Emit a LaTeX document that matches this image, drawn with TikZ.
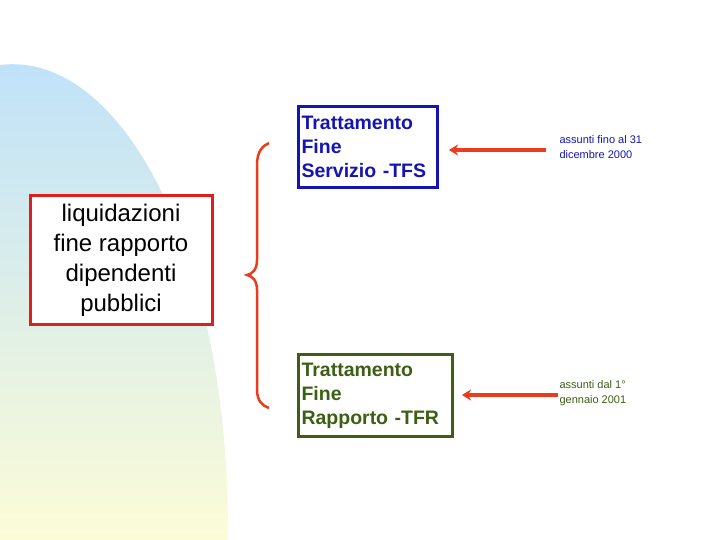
\documentclass[tikz,border=0pt]{standalone}
\usepackage{fontspec}
\setmainfont{Liberation Sans}
\usetikzlibrary{arrows.meta}
\definecolor{navy}{RGB}{20,20,180}
\definecolor{dgreen}{RGB}{60,95,20}
\definecolor{redb}{RGB}{225,30,30}
\definecolor{arr}{RGB}{235,60,30}
\definecolor{skyb}{RGB}{190,225,250}
\definecolor{paley}{RGB}{252,252,215}
\tikzset{box/.style={draw,line width=3pt,anchor=north west,align=left,inner xsep=3pt,inner ysep=1pt,font=\bfseries\fontsize{19.5}{24}\selectfont},
lbl/.style={anchor=west,align=left,font=\fontsize{11}{14.5}\selectfont},
arrw/.style={draw=arr,line width=3.5pt,-{Stealth[length=9pt,width=11pt]}}}
\begin{document}
\begin{tikzpicture}[x=1pt,y=-1pt]
\useasboundingbox (0,0) rectangle (720,540);
\shade[top color=skyb,bottom color=paley] (0,65) .. controls (120,50) and (230,250) .. (228,540) -- (0,540) -- cycle;
\node[box,draw=navy,text=navy,text width=133pt,minimum height=81pt] (tfs) at (297,105) {Trattamento\\Fine\\Servizio -TFS};
\node[box,draw=dgreen,text=dgreen,text width=148pt,minimum height=82pt] (tfr) at (297,353) {Trattamento\\Fine\\Rapporto -TFR};
\node[draw=redb,line width=3pt,fill=white,minimum width=182pt,minimum height=128pt,inner sep=1pt,align=center,font=\fontsize{24}{30}\selectfont] (liq) at (121,260) {liquidazioni\\fine rapporto\\dipendenti\\pubblici};
\node[lbl,text=navy] (l1) at (556,147) {assunti fino al 31\\dicembre 2000};
\node[lbl,text=dgreen] (l2) at (556,393) {assunti dal 1°\\gennaio 2001};
\coordinate (a1) at (546,150);
\coordinate (a2) at (558,395);
\draw[arrw] (a1) -- ([xshift=10pt]tfs.east |- a1);
\draw[arrw] (a2) -- ([xshift=8pt]tfr.east |- a2);
\draw[arr,line width=2.5pt] (269,143) .. controls (262,146) and (257,152) .. (257,165) -- (257,260) .. controls (257,270) and (252,274) .. (247,275) .. controls (252,276) and (257,280) .. (257,290) -- (257,390) .. controls (257,400) and (262,406) .. (269,408);
\end{tikzpicture}
\end{document}
